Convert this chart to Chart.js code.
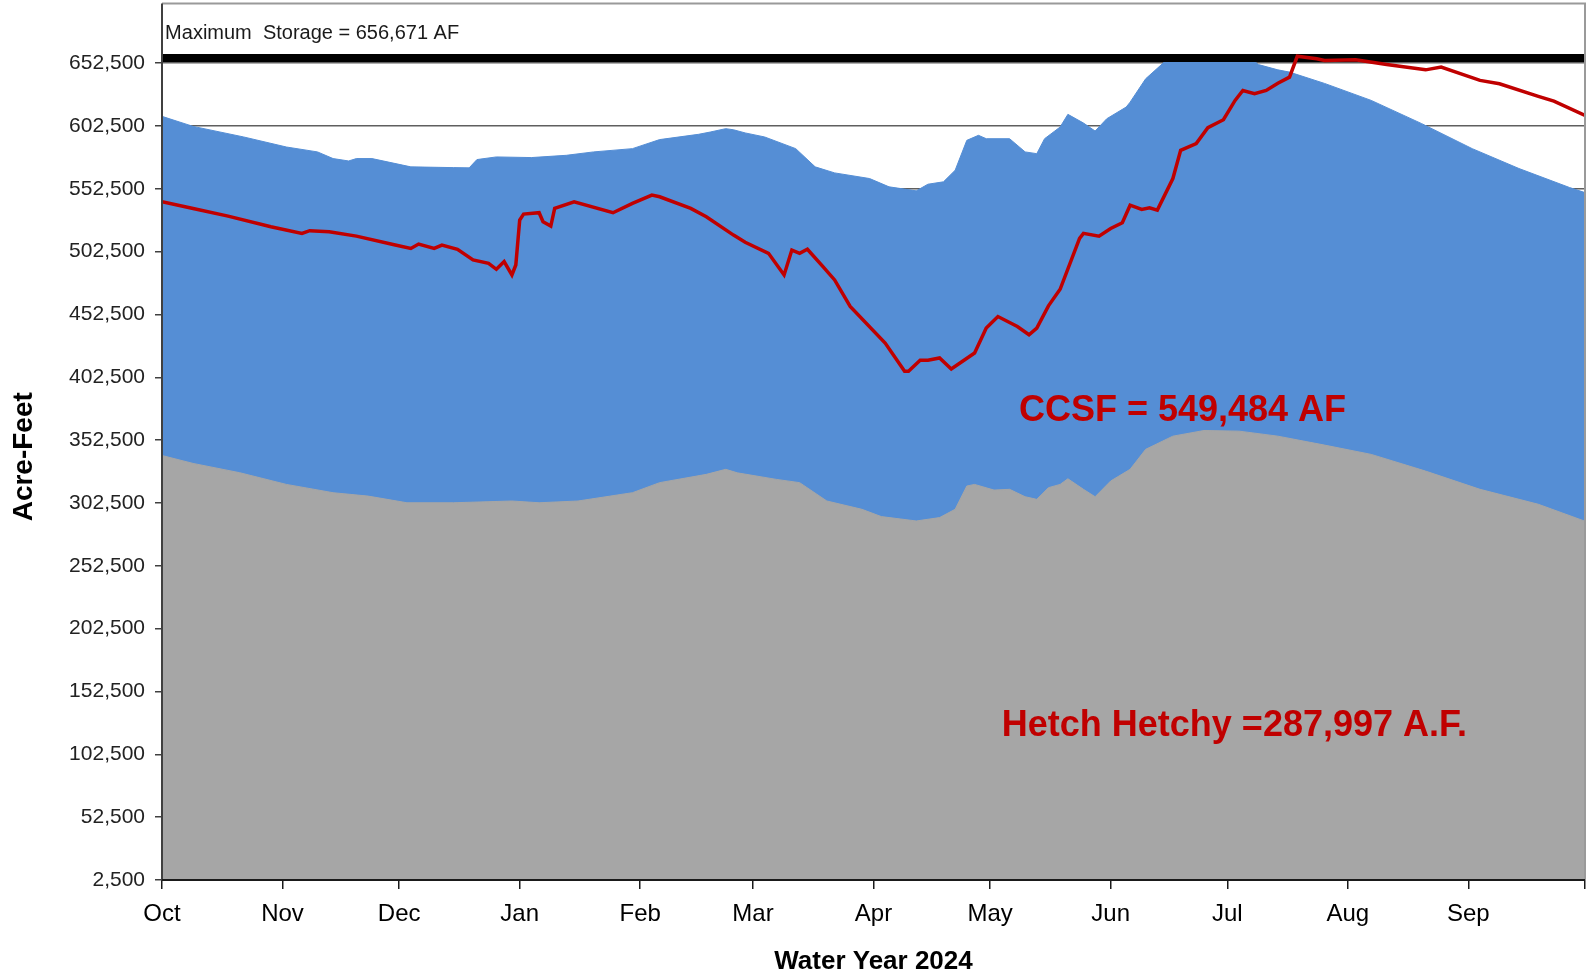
<!DOCTYPE html>
<html>
<head>
<meta charset="utf-8">
<script src="https://cdn.jsdelivr.net/npm/chart.js@4.4.0/dist/chart.umd.min.js"></script>
<style>
  html, body { margin: 0; padding: 0; background: #fff; }
  #wrap { width: 1587px; height: 974px; }
</style>
</head>
<body>
<div id="wrap"><canvas id="storageChart"></canvas></div>
<script>
// days counted from Oct 1 2023 (water year 2024 = 366 days)
var monthStarts = [0, 31, 61, 92, 123, 152, 183, 213, 244, 274, 305, 336, 366];
var monthLabels = ['Oct', 'Nov', 'Dec', 'Jan', 'Feb', 'Mar', 'Apr', 'May', 'Jun', 'Jul', 'Aug', 'Sep', ''];
var yTicks = [2500, 52500, 102500, 152500, 202500, 252500, 302500, 352500, 402500, 452500, 502500, 552500, 602500, 652500];

var maxStorage = 656671;

// total CCSF storage (top of blue area)
var ccsfDays = [0, 8, 21, 32, 40, 44, 48, 50, 54, 64, 75, 79, 81, 86, 95, 104, 111, 121, 128, 138, 141, 145, 147, 150,
  155, 163, 168, 173, 182, 187, 194, 197, 201, 204, 207, 210, 212, 218, 222, 225, 227, 231, 233, 237, 240, 243, 248,
  249, 253, 258, 281, 282, 287, 290, 299, 311, 324, 337, 349, 362, 366];
var ccsfValues = [610200, 602200, 593800, 585800, 581900, 576600, 574700, 576600, 576600, 570000, 569400, 569200, 575800,
  577900, 577400, 579200, 581900, 584500, 591700, 595900, 597700, 600400, 599500, 597000,
  593800, 584500, 570000, 565200, 560700, 554100, 550900, 556200, 558100, 567300, 591100, 595100, 592400, 592400,
  581900, 580500, 592400, 601700, 611800, 604900, 598500, 608300, 617600,
  621500, 640100, 654000, 654000, 651400, 647200, 645400, 636400, 622900, 604400, 584500, 568700, 553600, 549500];

// Hetch Hetchy storage (top of gray area)
var hetchDays = [0, 8, 20, 32, 44, 53, 63, 75, 90, 97, 107, 121, 128, 140, 145, 148, 158, 164, 171, 180, 185, 194, 200,
  204, 207, 209, 214, 218, 222, 225, 228, 231, 233, 237, 240, 244, 249, 253, 260, 268, 277, 287, 299, 311, 325, 339, 354, 366];
var hetchValues = [340300, 334000, 326600, 317300, 310700, 308000, 302700, 302700, 304100, 302700, 304100, 310700, 318700,
  325300, 329300, 326500, 321300, 318700, 304100, 297500, 291700, 288200, 290900,
  297500, 316000, 317300, 312800, 313400, 307500, 305400, 314700, 317300, 321800, 313400, 307500, 320000, 329300, 345200,
  355700, 360200, 359700, 355700, 348600, 341200, 327900, 313400, 301500, 288000];

// red trace
var traceDays = [0, 8, 17, 28, 36, 38, 43, 50, 60, 64, 66, 70, 72, 76, 80, 84, 86, 88, 90, 91, 92, 93, 97, 98, 100, 101,
  106, 116, 121, 126, 128, 136, 140, 147, 150, 156, 160, 162, 164, 166, 170, 173, 177, 186, 191, 192, 195, 197, 200, 203,
  209, 212, 215, 220, 223, 225, 228, 231, 236, 237, 241, 244, 247, 249, 252, 254, 256, 260, 262, 266, 269, 273, 276, 278,
  281, 284, 287, 290, 292, 297, 299, 307, 315, 325, 329, 339, 344, 354, 358, 366];
var traceValues = [542200, 536900, 530800, 522300, 517000, 519200, 518400, 514900, 507800, 505100, 508600, 505100, 507800,
  504400, 495900, 493200, 488500, 494600, 484000, 491900, 527600, 532400, 533500, 526300, 522900, 536900,
  542200, 533500, 540900, 547500, 546200, 536900, 530300, 515700, 510000, 501200, 484000, 503800, 501200, 504400, 490600,
  480000, 458900, 429800, 407300, 407300, 416100, 416100, 417900, 409200,
  421900, 441700, 450900, 443000, 436400, 441700, 459400, 472600, 513100, 517100, 514900, 521000, 525500, 539500, 536100,
  537400, 535600, 560700, 583200, 588500, 601200, 607500, 622900, 630800,
  628200, 630800, 636600, 641400, 658000, 656000, 654600, 655200, 651400, 647200, 649400, 638800, 636100, 626100, 622300, 611000];

function toPoints(days, values) {
    var pts = [];
    for (var i = 0; i < days.length; i++) {
        pts.push({x: days[i], y: values[i]});
    }
    return pts;
}

var notes = [
    {text: 'Maximum  Storage = 656,671 AF', day: 0.8, value: 676200, font: '20px "Liberation Sans", Arial, sans-serif', color: '#1a1a1a'},
    {text: 'CCSF = 549,484 AF', day: 220.4, value: 375600, font: 'bold 36px "Liberation Sans", Arial, sans-serif', color: '#C00000'},
    {text: 'Hetch Hetchy =287,997 A.F.', day: 216, value: 124900, font: 'bold 36px "Liberation Sans", Arial, sans-serif', color: '#C00000'}
];

var frameAndNotes = {
    id: 'frameAndNotes',
    afterDatasetsDraw: function(chart) {
        var ctx = chart.ctx;
        var a = chart.chartArea;
        var xs = chart.scales.x, ys = chart.scales.y;
        ctx.save();
        // plot frame
        ctx.lineWidth = 2;
        ctx.strokeStyle = '#9a9a9a';
        ctx.beginPath();
        ctx.moveTo(a.left, a.top);
        ctx.lineTo(a.right, a.top);
        ctx.lineTo(a.right, a.bottom);
        ctx.stroke();
        ctx.strokeStyle = '#404040';
        ctx.beginPath();
        ctx.moveTo(a.left, a.top);
        ctx.lineTo(a.left, a.bottom);
        ctx.stroke();
        ctx.strokeStyle = '#1a1a1a';
        ctx.beginPath();
        ctx.moveTo(a.left, a.bottom);
        ctx.lineTo(a.right, a.bottom);
        ctx.stroke();

        ctx.textAlign = 'left';
        ctx.textBaseline = 'middle';
        notes.forEach(function(n) {
            ctx.font = n.font;
            ctx.fillStyle = n.color;
            ctx.fillText(n.text, xs.getPixelForValue(n.day), ys.getPixelForValue(n.value));
        });

        // y axis title
        ctx.translate(24, (a.top + a.bottom) / 2 + 15);
        ctx.rotate(-Math.PI / 2);
        ctx.textAlign = 'center';
        ctx.font = 'bold 28px "Liberation Sans", Arial, sans-serif';
        ctx.fillStyle = '#000';
        ctx.fillText('Acre-Feet', 0, 0);
        ctx.restore();
    }
};

Chart.defaults.font.family = '"Liberation Sans", Arial, sans-serif';
Chart.defaults.color = '#000';

var ctx = document.getElementById('storageChart');
var storageChart = new Chart(ctx, {
    type: 'line',
    data: {
        datasets: [
            {
                label: 'Trace',
                data: toPoints(traceDays, traceValues),
                borderColor: '#C00000',
                borderWidth: 3.5,
                pointRadius: 0,
                fill: false,
                order: 0
            },
            {
                label: 'Maximum Storage',
                data: toPoints([0, 366], [maxStorage, maxStorage]),
                borderColor: '#000',
                borderWidth: 8,
                pointRadius: 0,
                fill: false,
                order: 1
            },
            {
                label: 'Hetch Hetchy',
                data: toPoints(hetchDays, hetchValues),
                borderColor: '#A6A6A6',
                backgroundColor: '#A6A6A6',
                borderWidth: 1,
                pointRadius: 0,
                fill: 'origin',
                order: 2
            },
            {
                label: 'CCSF',
                data: toPoints(ccsfDays, ccsfValues),
                borderColor: '#558ED5',
                backgroundColor: '#558ED5',
                borderWidth: 1,
                pointRadius: 0,
                fill: 'origin',
                order: 3
            }
        ]
    },
    options: {
        responsive: true,
        maintainAspectRatio: false,
        animation: false,
        layout: { padding: { top: 3.5, right: 2, left: 0, bottom: 0 } },
        plugins: {
            legend: { display: false },
            tooltip: { enabled: false }
        },
        scales: {
            x: {
                type: 'linear',
                min: 0,
                max: 366,
                border: { display: false },
                grid: { drawOnChartArea: false, drawTicks: true, tickLength: 9, tickColor: '#1a1a1a', lineWidth: 1.5 },
                ticks: {
                    padding: 11,
                    maxRotation: 0,
                    autoSkip: false,
                    font: { size: 24 },
                    color: '#000',
                    callback: function(value) {
                        var i = monthStarts.indexOf(value);
                        return i >= 0 ? monthLabels[i] : '';
                    }
                },
                afterBuildTicks: function(scale) {
                    scale.ticks = monthStarts.map(function(d) { return {value: d}; });
                },
                title: {
                    display: true,
                    text: 'Water Year 2024',
                    font: { size: 26, weight: 'bold' },
                    color: '#000',
                    padding: { top: 0, bottom: -3 }
                },
                afterFit: function(scale) {
                    scale.height = 94;
                    scale.paddingLeft = 0;
                    scale.paddingRight = 0;
                }
            },
            y: {
                type: 'linear',
                min: 2500,
                max: 700000,
                border: { display: false },
                grid: { color: '#5f5f5f', lineWidth: 1.5, tickLength: 7, tickColor: '#404040' },
                ticks: {
                    padding: 10,
                    font: { size: 21 },
                    color: '#222',
                    callback: function(value) {
                        return value.toLocaleString('en-US');
                    }
                },
                afterBuildTicks: function(scale) {
                    scale.ticks = yTicks.map(function(v) { return {value: v}; });
                },
                afterFit: function(scale) {
                    scale.width = 162;
                    scale.paddingTop = 0;
                    scale.paddingBottom = 0;
                }
            }
        }
    },
    plugins: [frameAndNotes]
});
</script>
</body>
</html>
